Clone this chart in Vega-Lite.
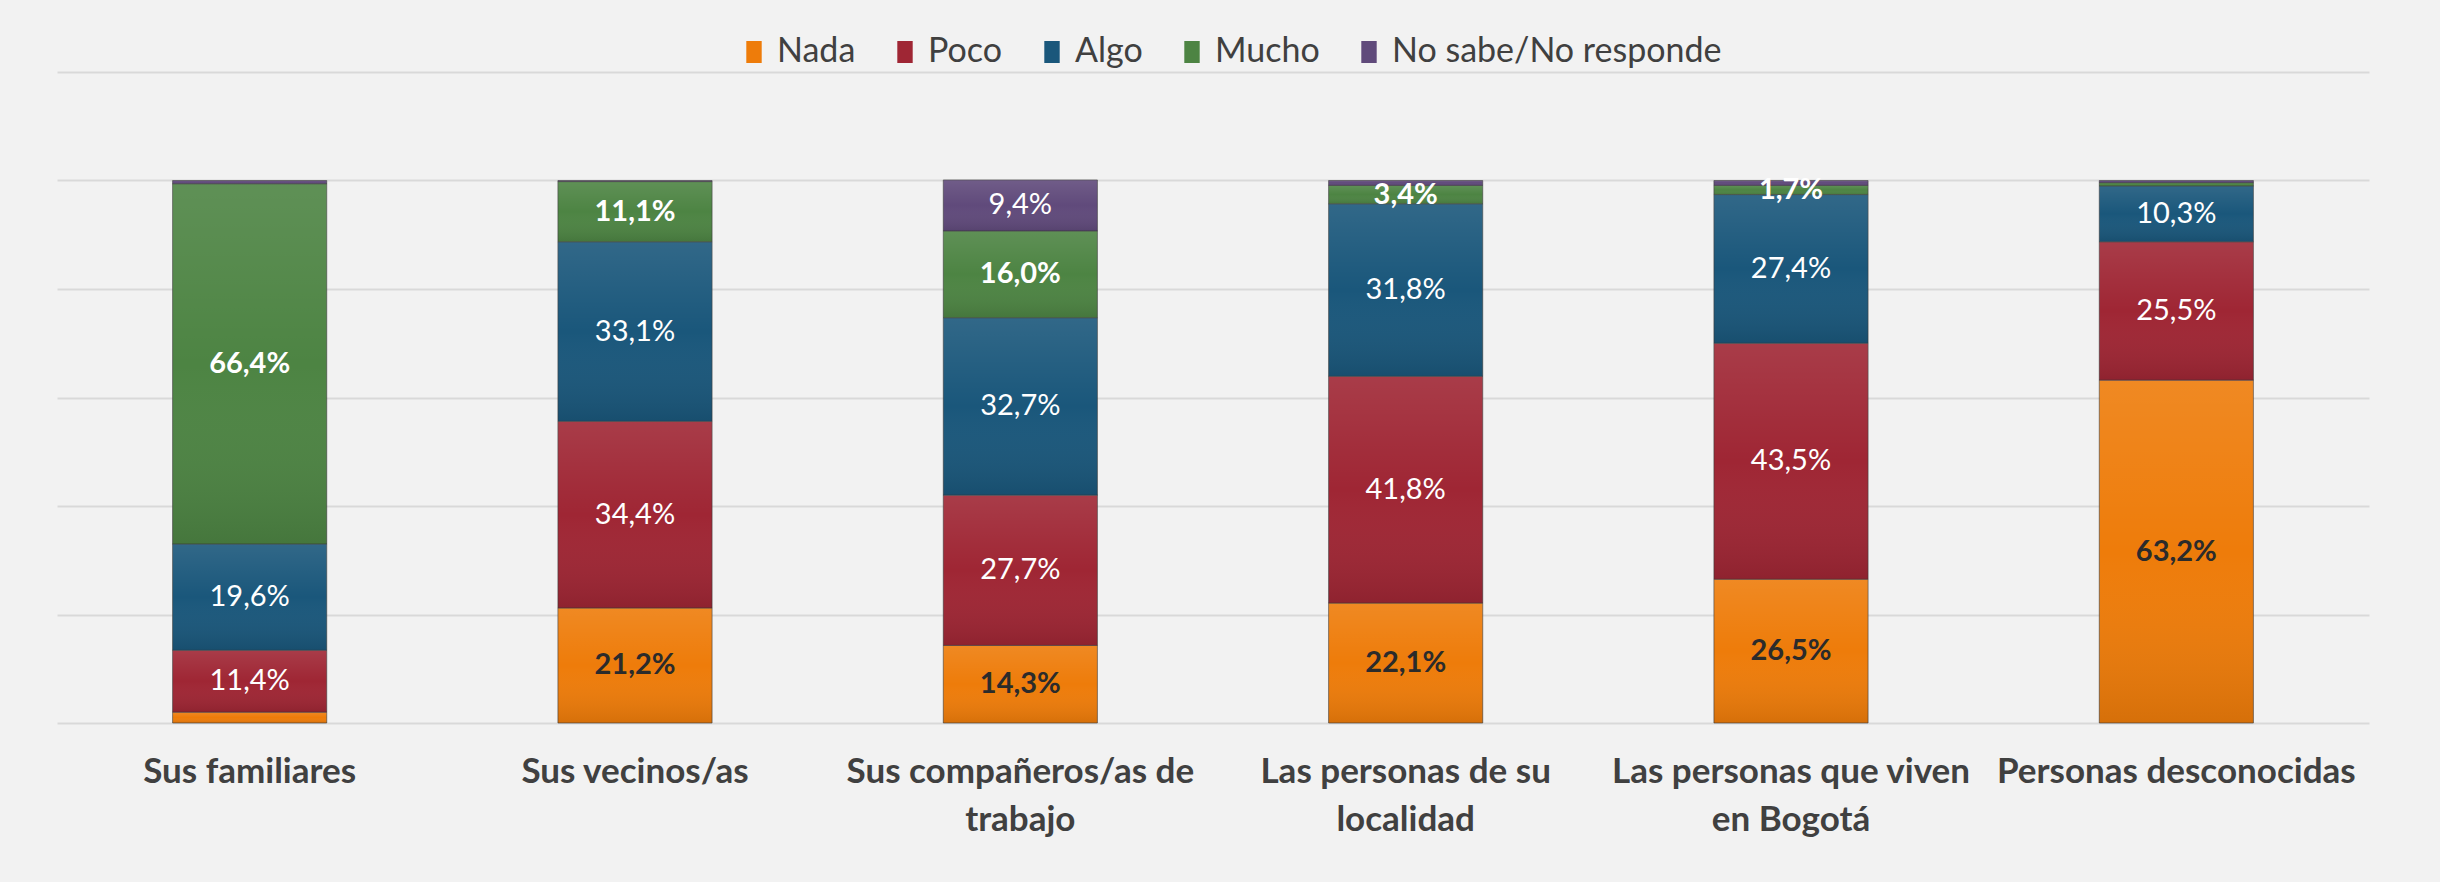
{
  "$schema": "https://vega.github.io/schema/vega-lite/v6.json",
  "width": 2312,
  "height": 651,
  "autosize": {"type": "none"},
  "padding": {"left": 57, "top": 72, "right": 71, "bottom": 159},
  "background": "#F2F2F2",
  "config": {
    "locale": {"number": {"decimal": ",", "thousands": ".", "grouping": [3], "currency": ["$", ""]}},
    "view": {"stroke": null},
    "font": "Lato"
  },
  "data": {
    "values": [
      {"grupo": "Sus familiares", "cat": "Nada", "k": 1, "v": 0.020},
      {"grupo": "Sus familiares", "cat": "Poco", "k": 2, "v": 0.114},
      {"grupo": "Sus familiares", "cat": "Algo", "k": 3, "v": 0.196},
      {"grupo": "Sus familiares", "cat": "Mucho", "k": 4, "v": 0.664},
      {"grupo": "Sus familiares", "cat": "No sabe/No responde", "k": 5, "v": 0.006},
      {"grupo": "Sus vecinos/as", "cat": "Nada", "k": 1, "v": 0.212},
      {"grupo": "Sus vecinos/as", "cat": "Poco", "k": 2, "v": 0.344},
      {"grupo": "Sus vecinos/as", "cat": "Algo", "k": 3, "v": 0.331},
      {"grupo": "Sus vecinos/as", "cat": "Mucho", "k": 4, "v": 0.111},
      {"grupo": "Sus vecinos/as", "cat": "No sabe/No responde", "k": 5, "v": 0.002},
      {"grupo": "Sus compañeros/as de trabajo", "cat": "Nada", "k": 1, "v": 0.143},
      {"grupo": "Sus compañeros/as de trabajo", "cat": "Poco", "k": 2, "v": 0.277},
      {"grupo": "Sus compañeros/as de trabajo", "cat": "Algo", "k": 3, "v": 0.327},
      {"grupo": "Sus compañeros/as de trabajo", "cat": "Mucho", "k": 4, "v": 0.160},
      {"grupo": "Sus compañeros/as de trabajo", "cat": "No sabe/No responde", "k": 5, "v": 0.094},
      {"grupo": "Las personas de su localidad", "cat": "Nada", "k": 1, "v": 0.221},
      {"grupo": "Las personas de su localidad", "cat": "Poco", "k": 2, "v": 0.418},
      {"grupo": "Las personas de su localidad", "cat": "Algo", "k": 3, "v": 0.318},
      {"grupo": "Las personas de su localidad", "cat": "Mucho", "k": 4, "v": 0.034},
      {"grupo": "Las personas de su localidad", "cat": "No sabe/No responde", "k": 5, "v": 0.009},
      {"grupo": "Las personas que viven en Bogotá", "cat": "Nada", "k": 1, "v": 0.265},
      {"grupo": "Las personas que viven en Bogotá", "cat": "Poco", "k": 2, "v": 0.435},
      {"grupo": "Las personas que viven en Bogotá", "cat": "Algo", "k": 3, "v": 0.274},
      {"grupo": "Las personas que viven en Bogotá", "cat": "Mucho", "k": 4, "v": 0.017},
      {"grupo": "Las personas que viven en Bogotá", "cat": "No sabe/No responde", "k": 5, "v": 0.009},
      {"grupo": "Personas desconocidas", "cat": "Nada", "k": 1, "v": 0.632},
      {"grupo": "Personas desconocidas", "cat": "Poco", "k": 2, "v": 0.255},
      {"grupo": "Personas desconocidas", "cat": "Algo", "k": 3, "v": 0.103},
      {"grupo": "Personas desconocidas", "cat": "Mucho", "k": 4, "v": 0.006},
      {"grupo": "Personas desconocidas", "cat": "No sabe/No responde", "k": 5, "v": 0.004}
    ]
  },
  "encoding": {
    "x": {
      "field": "grupo",
      "type": "nominal",
      "sort": null,
      "scale": {"paddingInner": 0.6, "paddingOuter": 0.3},
      "axis": {
        "title": null,
        "domain": false,
        "ticks": false,
        "labelAngle": 0,
        "labelLimit": 0,
        "labelFontSize": 35,
        "labelFontWeight": "bold",
        "labelColor": "#404040",
        "labelPadding": 31,
        "labelLineHeight": 48,
        "labelExpr": "datum.label == 'Sus compañeros/as de trabajo' ? ['Sus compañeros/as de', 'trabajo'] : datum.label == 'Las personas de su localidad' ? ['Las personas de su', 'localidad'] : datum.label == 'Las personas que viven en Bogotá' ? ['Las personas que viven', 'en Bogotá'] : datum.label"
      }
    },
    "y": {
      "field": "v",
      "type": "quantitative",
      "stack": "zero",
      "scale": {"domain": [0, 1.2], "nice": false, "zero": true},
      "axis": {
        "title": null,
        "labels": false,
        "ticks": false,
        "domain": false,
        "grid": true,
        "gridColor": "#D9D9D9",
        "gridWidth": 2,
        "values": [0, 0.2, 0.4, 0.6, 0.8, 1, 1.2]
      }
    },
    "order": {"field": "k", "type": "quantitative"}
  },
  "layer": [
    {
      "mark": {"type": "bar", "stroke": "#3a3a3a", "strokeWidth": 1, "strokeOpacity": 0.6},
      "encoding": {
        "color": {
          "field": "cat",
          "type": "nominal",
          "scale": {
            "domain": ["Nada", "Poco", "Algo", "Mucho", "No sabe/No responde"],
            "range": ["#EE7C0A", "#9F2634", "#1A577B", "#4D8443", "#604A7B"]
          },
          "legend": {
            "orient": "none",
            "legendX": 680,
            "legendY": -37,
            "direction": "horizontal",
            "title": null,
            "labelFontSize": 34,
            "labelColor": "#404040",
            "labelLimit": 0,
            "symbolType": "M-0.7,-1H0.7V1H-0.7Z",
            "symbolSize": 484,
            "symbolStrokeWidth": 0,
            "symbolOpacity": 1,
            "columnPadding": 32,
            "labelOffset": 6
          }
        }
      }
    },
    {
      "mark": {
        "type": "bar",
        "color": {
          "x1": 0, "y1": 0, "x2": 0, "y2": 1,
          "gradient": "linear",
          "stops": [
            {"offset": 0, "color": "rgba(255,255,255,0.10)"},
            {"offset": 0.5, "color": "rgba(255,255,255,0)"},
            {"offset": 1, "color": "rgba(0,0,0,0.10)"}
          ]
        }
      },
      "encoding": {"detail": {"field": "cat", "type": "nominal"}}
    },
    {
      "mark": {"type": "text", "fontSize": 29, "fontWeight": "bold", "baseline": "middle", "align": "center"},
      "encoding": {
        "y": {"field": "v", "type": "quantitative", "stack": "zero", "bandPosition": 0.5},
        "detail": {"field": "cat", "type": "nominal"},
        "text": {
          "condition": {"test": "(datum.cat == 'Mucho' && datum.v >= 0.015) || (datum.cat == 'Nada' && datum.v >= 0.03)", "field": "v", "type": "quantitative", "format": ".1%"},
          "value": ""
        },
        "color": {
          "condition": {"test": "datum.cat == 'Nada'", "value": "#2B2B2B"},
          "value": "#FFFFFF"
        }
      }
    },
    {
      "mark": {"type": "text", "fontSize": 29, "fontWeight": "normal", "baseline": "middle", "align": "center", "color": "#FFFFFF"},
      "encoding": {
        "y": {"field": "v", "type": "quantitative", "stack": "zero", "bandPosition": 0.5},
        "detail": {"field": "cat", "type": "nominal"},
        "text": {
          "condition": {"test": "(datum.cat == 'Poco' || datum.cat == 'Algo' || datum.cat == 'No sabe/No responde') && datum.v >= 0.015", "field": "v", "type": "quantitative", "format": ".1%"},
          "value": ""
        }
      }
    }
  ]
}
